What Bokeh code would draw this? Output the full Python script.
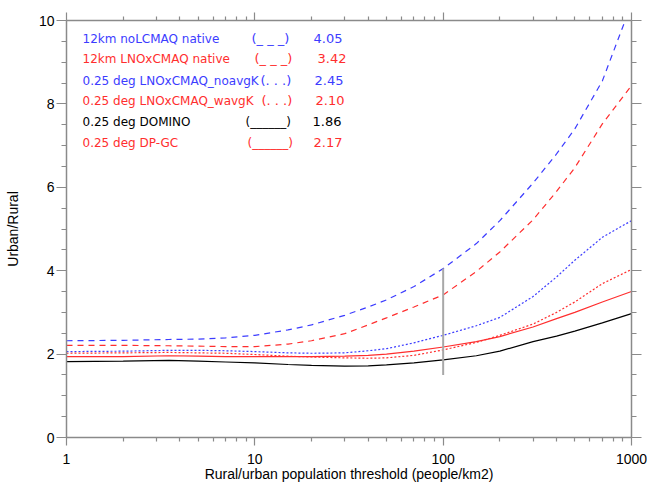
from bokeh.plotting import figure
from bokeh.models import (LogAxis, LinearAxis, FixedTicker, PrintfTickFormatter,
                          Label, Range1d)
from bokeh.embed import file_html
from bokeh.resources import INLINE

# ---- data ----
threshold = [1, 2, 3.5, 5, 7, 10, 15, 20, 30, 40, 50, 70, 100, 150, 200, 300, 400, 500, 700, 1000]
cmaq12_nolnox = [2.32, 2.33, 2.35, 2.36, 2.39, 2.45, 2.58, 2.70, 2.93, 3.13, 3.30, 3.62, 4.05,
                 4.65, 5.20, 6.10, 6.80, 7.40, 8.55, 10.4]
cmaq12_lnox = [2.21, 2.21, 2.20, 2.19, 2.18, 2.18, 2.24, 2.32, 2.49, 2.70, 2.87, 3.13, 3.42,
               3.98, 4.45, 5.22, 5.90, 6.47, 7.52, 8.44]
cmaq025_noavgk = [2.06, 2.07, 2.09, 2.09, 2.08, 2.06, 2.03, 2.02, 2.03, 2.08, 2.13, 2.27, 2.45,
                  2.68, 2.88, 3.38, 3.85, 4.25, 4.80, 5.20]
cmaq025_wavgk = [2.02, 2.03, 2.04, 2.03, 2.02, 1.99, 1.95, 1.93, 1.91, 1.90, 1.91, 1.97, 2.10,
                 2.28, 2.45, 2.72, 3.00, 3.25, 3.69, 4.03]
domino = [1.82, 1.83, 1.85, 1.83, 1.81, 1.79, 1.75, 1.73, 1.71, 1.72, 1.74, 1.79, 1.86,
          1.96, 2.07, 2.30, 2.43, 2.55, 2.75, 2.97]
dpgc = [1.94, 1.94, 1.96, 1.95, 1.94, 1.94, 1.94, 1.94, 1.95, 1.97, 2.00, 2.07, 2.17,
        2.30, 2.42, 2.65, 2.85, 3.00, 3.25, 3.50]

marker_x = [100]
marker_lo = [1.5]
marker_hi = [4.05]

legend_names = ["12km noLCMAQ native", "12km LNOxCMAQ native", "0.25 deg LNOxCMAQ_noavgK",
                "0.25 deg LNOxCMAQ_wavgK", "0.25 deg DOMINO", "0.25 deg DP-GC"]
legend_styles = ["(_ _ _)", "(_ _ _)", "(. . .)", "(. . .)", "(______)", "(______)"]
legend_values = ["4.05", "3.42", "2.45", "2.10", "1.86", "2.17"]

x_major = [1, 10, 100, 1000]
x_minor = [m * d for d in (1, 10, 100) for m in range(2, 10)]
y_major = [0, 2, 4, 6, 8, 10]
y_minor = [i * 0.5 for i in range(21)]

BLUE = "#3c3cff"
RED = "#ff2e2e"
BLACK = "#000000"
AXC = "#8a8a8a"
FONT = "Liberation Sans"
LFONT = "DejaVu Sans"

series = [
    (cmaq12_nolnox, BLUE, "6 5"),
    (cmaq12_lnox, RED, "6 5"),
    (cmaq025_noavgk, BLUE, "2 2"),
    (cmaq025_wavgk, RED, "2 2"),
    (domino, BLACK, "solid"),
    (dpgc, RED, "solid"),
]
text_colors = [BLUE, RED, BLUE, RED, BLACK, RED]

W, H = 647, 486
BL, BR, BT, BB = 66, 16, 20, 49
p = figure(width=W, height=H, x_axis_type="log", output_backend="svg", toolbar_location=None,
           x_range=Range1d(1, 1000), y_range=Range1d(0, 10),
           min_border_left=BL, min_border_right=BR, min_border_top=BT, min_border_bottom=BB)
p.outline_line_color = None
p.grid.visible = False
p.background_fill_color = "white"
p.border_fill_color = "white"

for ys, col, dash in series:
    p.line(threshold, ys, line_color=col, line_width=1.2, line_dash=dash)

p.segment(x0=marker_x, y0=marker_lo, x1=marker_x, y1=marker_hi, line_color="#a8a8a8", line_width=2)


def style_axis(ax, labels=True, major_out=8, minor_out=4):
    ax.axis_line_color = AXC
    ax.axis_line_width = 1.5
    ax.major_tick_line_color = AXC
    ax.minor_tick_line_color = AXC
    ax.major_tick_line_width = 1.2
    ax.minor_tick_line_width = 1.2
    ax.major_tick_in = 0
    ax.minor_tick_in = 0
    ax.major_tick_out = major_out
    ax.minor_tick_out = minor_out
    ax.major_label_text_font = FONT
    ax.major_label_text_font_size = "14px" if labels else "1px"
    ax.major_label_text_color = "black"
    if not labels:
        ax.major_label_text_alpha = 0
        ax.major_label_standoff = 0
    ax.axis_label_text_font = FONT
    ax.axis_label_text_font_size = "14px"
    ax.axis_label_text_font_style = "normal"
    ax.axis_label_text_color = "black"


xb = p.xaxis[0]
xb.ticker = FixedTicker(ticks=x_major, minor_ticks=x_minor)
xb.formatter = PrintfTickFormatter(format="%d")
xb.axis_label = "Rural/urban population threshold (people/km2)"
style_axis(xb, major_out=8, minor_out=4)
xb.major_label_standoff = 8
xb.axis_label_standoff = -1

yl = p.yaxis[0]
yl.ticker = FixedTicker(ticks=y_major, minor_ticks=y_minor)
yl.axis_label = "Urban/Rural"
style_axis(yl, major_out=10, minor_out=5)
yl.major_label_standoff = 2
yl.axis_label_standoff = 15

xt = LogAxis(ticker=FixedTicker(ticks=x_major, minor_ticks=x_minor))
style_axis(xt, labels=False, major_out=8, minor_out=4)
p.add_layout(xt, "above")

yr = LinearAxis(ticker=FixedTicker(ticks=y_major, minor_ticks=y_minor))
style_axis(yr, labels=False, major_out=10, minor_out=5)
p.add_layout(yr, "right")

# legend text: screen pixels relative to the frame's bottom-left corner
frame_left_page = BL
frame_bottom_page = H - BB
row_page_y = [38, 58, 80, 100, 121, 142]
name_page_x = 82
style_page_x = [251, 254, 260, 261, 245, 247]
value_page_x = [313, 317, 314, 315, 312, 313]
style_sizes = ["13px", "13px", "13px", "13px", "12px", "12px"]
for i in range(6):
    yy = frame_bottom_page - row_page_y[i]
    for txt, px, fs in ((legend_names[i], name_page_x, "12px"),
                        (legend_styles[i], style_page_x[i], style_sizes[i]),
                        (legend_values[i], value_page_x[i], "13px")):
        p.add_layout(Label(x=px - frame_left_page, y=yy, x_units="screen", y_units="screen",
                           text=txt, text_font=LFONT, text_font_size=fs,
                           text_color=text_colors[i], text_baseline="middle", text_align="left"))

open("out.html", "w").write(file_html(p, INLINE))
